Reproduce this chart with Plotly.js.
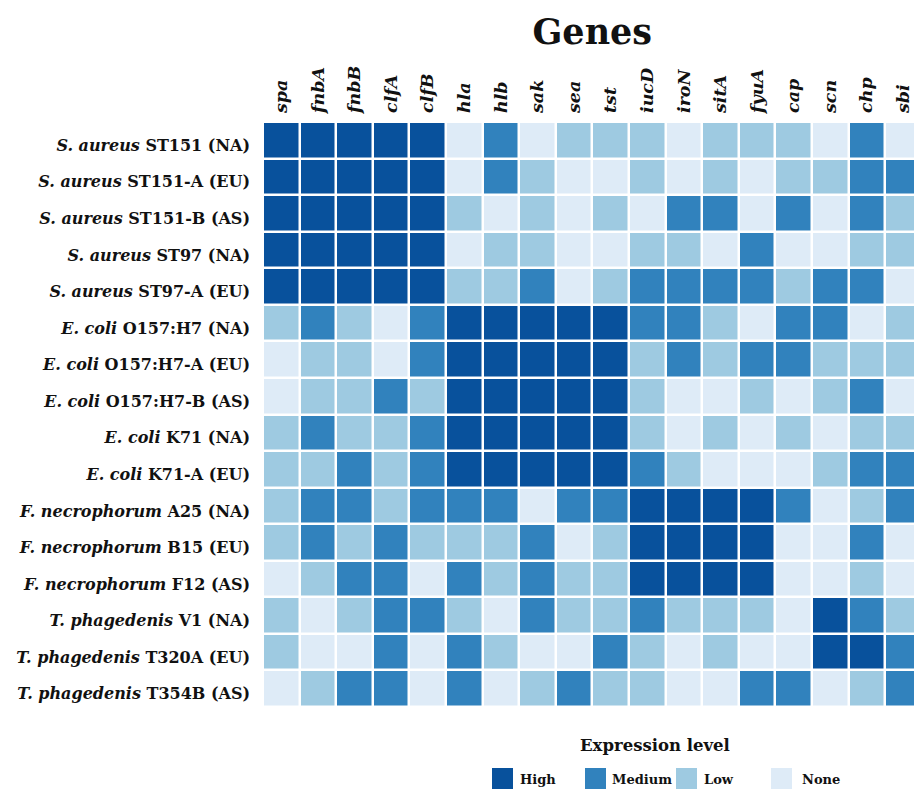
<!DOCTYPE html>
<html>
<head>
<meta charset="utf-8">
<script src="https://cdn.plot.ly/plotly-3.0.1.min.js"></script>
<style>html,body{margin:0;padding:0;background:#fff;}#chart{width:914px;height:789px;}</style>
</head>
<body>
<div id="chart"></div>
<script>
// Genes (columns)
const genes = ["spa","fnbA","fnbB","clfA","clfB","hla","hlb","sak","sea","tst","iucD","iroN","sitA","fyuA","cap","scn","chp","sbi"];
// Strains (rows, top to bottom)
const species = ["S. aureus","S. aureus","S. aureus","S. aureus","S. aureus","E. coli","E. coli","E. coli","E. coli","E. coli","F. necrophorum","F. necrophorum","F. necrophorum","T. phagedenis","T. phagedenis","T. phagedenis"];
const strains = ["ST151 (NA)","ST151-A (EU)","ST151-B (AS)","ST97 (NA)","ST97-A (EU)","O157:H7 (NA)","O157:H7-A (EU)","O157:H7-B (AS)","K71 (NA)","K71-A (EU)","A25 (NA)","B15 (EU)","F12 (AS)","V1 (NA)","T320A (EU)","T354B (AS)"];
// Expression levels: 0 = None, 1 = Low, 2 = Medium, 3 = High
const levelNames = ["None","Low","Medium","High"];
const levelColors = ["#deebf7","#9ecae1","#3182bd","#08519c"];
const expression = [
  [3,3,3,3,3,0,2,0,1,1,1,0,1,1,1,0,2,0],
  [3,3,3,3,3,0,2,1,0,0,1,0,1,0,1,1,2,2],
  [3,3,3,3,3,1,0,1,0,1,0,2,2,0,2,0,2,1],
  [3,3,3,3,3,0,1,1,0,0,1,1,0,2,0,0,1,1],
  [3,3,3,3,3,1,1,2,0,1,2,2,2,2,1,2,2,0],
  [1,2,1,0,2,3,3,3,3,3,2,2,1,0,2,2,0,1],
  [0,1,1,0,2,3,3,3,3,3,1,2,1,2,2,1,1,1],
  [0,1,1,2,1,3,3,3,3,3,1,0,0,1,0,1,2,0],
  [1,2,1,1,2,3,3,3,3,3,1,0,1,0,1,0,1,1],
  [1,1,2,1,2,3,3,3,3,3,2,1,0,0,0,1,2,2],
  [1,2,2,1,2,2,2,0,2,2,3,3,3,3,2,0,1,2],
  [1,2,1,2,1,1,1,2,0,1,3,3,3,3,0,0,2,0],
  [0,1,2,2,0,2,1,2,1,1,3,3,3,3,0,0,1,0],
  [1,0,1,2,2,1,0,2,1,1,2,1,1,1,0,3,2,1],
  [1,0,0,2,0,2,1,0,0,2,1,0,1,0,0,3,3,2],
  [0,1,2,2,0,2,0,1,2,1,1,0,0,2,2,0,1,2]
];

const rowLabels = species.map((s,i)=>"<b><i>"+s+"</i> "+strains[i]+"</b>");
const colLabels = genes.map(g=>"<b><i>"+g+"</i></b>");

const cs = [];
levelColors.forEach((c,i)=>{cs.push([i/4,c]);cs.push([(i+1)/4,c]);});

const serif = "DejaVu Serif";
const W = 914, H = 789, M = {l:263,r:0,t:122,b:82};
const pw = W - M.l - M.r, ph = H - M.t - M.b;
const px2x = p => (p - M.l) / pw;
const px2y = p => (H - M.b - p) / ph;

const traces = [{
  type:"heatmap",
  z: expression,
  x: genes,
  y: rowLabels.map((_,i)=>i),
  zmin:-0.5, zmax:3.5,
  colorscale: cs,
  showscale:false,
  xgap:2.5, ygap:2.5,
  hoverinfo:"skip"
}];

// manual legend (High, Medium, Low, None)
const legendOrder = [3,2,1,0];
const legSwatchX = [492,585,676,771];
const legTextX = [518,610,702,800];
const shapes = [], annotations = [];
legendOrder.forEach((l,k)=>{
  shapes.push({type:"rect",xref:"paper",yref:"paper",x0:px2x(legSwatchX[k]),x1:px2x(legSwatchX[k]+21),
    y0:px2y(768),y1:px2y(790),fillcolor:levelColors[l],line:{width:0}});
  annotations.push({xref:"paper",yref:"paper",x:px2x(legTextX[k]),y:px2y(779),xanchor:"left",yanchor:"middle",
    text:"<b>"+levelNames[l]+"</b>",showarrow:false,font:{family:serif,size:13,color:"#111"}});
});
annotations.push({xref:"paper",yref:"paper",x:px2x(655),y:px2y(745),xanchor:"center",yanchor:"middle",
  text:"<b>Expression level</b>",showarrow:false,font:{family:serif,size:16.5,color:"#111"}});

const layout = {
  width:W,height:H,
  margin:{l:M.l,r:M.r,t:M.t,b:M.b,pad:0},
  paper_bgcolor:"#ffffff",plot_bgcolor:"#ffffff",
  font:{family:serif,color:"#111"},
  title:{text:"<b>Genes</b>",font:{family:serif,size:35,color:"#111"},x:0.648,xanchor:"center",y:0.96,yanchor:"middle"},
  xaxis:{side:"top",type:"category",range:[-0.5,17.29],tickangle:-90,tickvals:genes,ticktext:colLabels,
    tickfont:{family:serif,size:17.5,color:"#111"},showgrid:false,zeroline:false,ticks:"",ticklabelstandoff:8,showline:false,fixedrange:true},
  yaxis:{range:[15.5,-0.5],tickvals:rowLabels.map((_,i)=>i),ticktext:rowLabels,
    tickfont:{family:serif,size:16,color:"#111"},showgrid:false,zeroline:false,ticks:"",ticklabelstandoff:12,ticklabelshift:-5,showline:false,fixedrange:true},
  showlegend:false,
  shapes:shapes,
  annotations:annotations
};
Plotly.newPlot("chart",traces,layout,{displayModeBar:false,staticPlot:true});
</script>
</body>
</html>
